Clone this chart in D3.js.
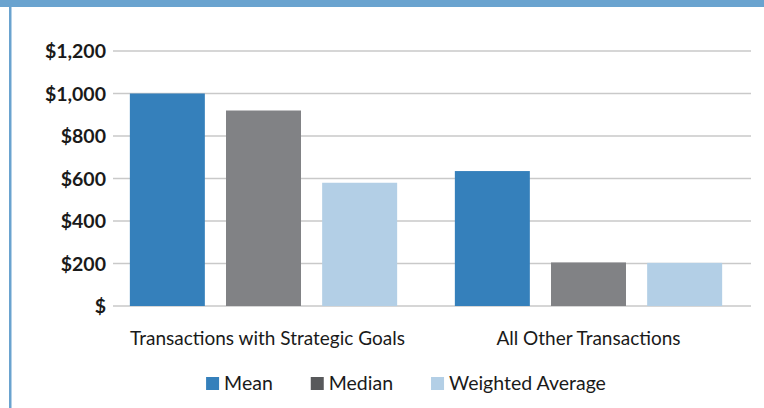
<!DOCTYPE html>
<html>
<head>
<meta charset="utf-8">
<script src="https://cdn.jsdelivr.net/npm/d3@7"></script>
<style>
  body { margin: 0; background: #fff; }
  svg { display: block; font-family: Lato, "Noto Sans", sans-serif; }
</style>
</head>
<body>
<div id="chart"></div>
<script>
const categories = ["Transactions with Strategic Goals", "All Other Transactions"];
const seriesNames = ["Mean", "Median", "Weighted Average"];
const meanValues = [1000, 635];
const medianValues = [920, 205];
const weightedValues = [580, 203];
const yTicks = [0, 200, 400, 600, 800, 1000, 1200];
const yTickLabels = ["$", "$200", "$400", "$600", "$800", "$1,000", "$1,200"];

const barColors = ["#3580bb", "#818285", "#b3cfe6"];
const legendColors = ["#3580bb", "#58595b", "#b3cfe6"];

const width = 764;
const height = 408;

const svg = d3.select("#chart")
  .append("svg")
  .attr("width", width)
  .attr("height", height);

// frame: top band and left rule
svg.append("rect")
  .attr("x", 0).attr("y", 0)
  .attr("width", width).attr("height", 7)
  .attr("fill", "#6aa3cf");
svg.append("rect")
  .attr("x", 9).attr("y", 0)
  .attr("width", 2.5).attr("height", height)
  .attr("fill", "#6aa3cf");

const y = d3.scaleLinear()
  .domain([0, 1200])
  .range([306, 51]);

const x0 = d3.scaleBand()
  .domain(categories)
  .range([101, 751]);

const x1 = d3.scaleBand()
  .domain(seriesNames)
  .range([0, x0.bandwidth()])
  .paddingInner(0.22)
  .paddingOuter(0.3);

// gridlines
svg.append("g")
  .selectAll("line")
  .data(yTicks)
  .join("line")
  .attr("x1", 113)
  .attr("x2", 751)
  .attr("y1", d => y(d))
  .attr("y2", d => y(d))
  .attr("stroke", "#c9c9c9")
  .attr("stroke-width", 1.6);

// y tick labels
svg.append("g")
  .selectAll("text")
  .data(yTicks)
  .join("text")
  .attr("x", 106)
  .attr("y", d => y(d))
  .attr("dy", "0.36em")
  .attr("text-anchor", "end")
  .attr("font-size", 19.5)
  .attr("font-weight", 700)
  .attr("fill", "#1a1a1a")
  .text((d, i) => yTickLabels[i]);

const rows = categories.map((c, i) => ({
  category: c,
  values: [meanValues[i], medianValues[i], weightedValues[i]]
}));

const groups = svg.append("g")
  .selectAll("g")
  .data(rows)
  .join("g")
  .attr("transform", d => `translate(${x0(d.category)},0)`);

groups.selectAll("rect")
  .data(d => d.values.map((v, i) => ({ name: seriesNames[i], value: v, i })))
  .join("rect")
  .attr("x", d => x1(d.name))
  .attr("y", d => y(d.value))
  .attr("width", x1.bandwidth())
  .attr("height", d => y(0) - y(d.value))
  .attr("fill", d => barColors[d.i]);

// category labels
svg.append("g")
  .selectAll("text")
  .data(categories)
  .join("text")
  .attr("x", (d, i) => x0(d) + x0.bandwidth() / 2 + (i === 0 ? 4 : 0))
  .attr("y", 345)
  .attr("text-anchor", "middle")
  .attr("font-size", 19)
  .attr("fill", "#1a1a1a")
  .text(d => d);

// legend
const legend = svg.append("g");
const items = legend.selectAll("g")
  .data(seriesNames)
  .join("g");
items.append("rect")
  .attr("y", 377)
  .attr("width", 13)
  .attr("height", 13)
  .attr("fill", (d, i) => legendColors[i]);
items.append("text")
  .attr("x", 18)
  .attr("y", 390)
  .attr("font-size", 19.5)
  .attr("fill", "#1a1a1a")
  .text(d => d);

let pos = 0;
const offsets = [];
items.each(function () {
  offsets.push(pos);
  const w = d3.select(this).select("text").node().getComputedTextLength();
  pos += 18 + w + 38;
});
const total = pos - 38;
const start = 406 - total / 2;
items.attr("transform", (d, i) => `translate(${start + offsets[i]},0)`);
</script>
</body>
</html>
